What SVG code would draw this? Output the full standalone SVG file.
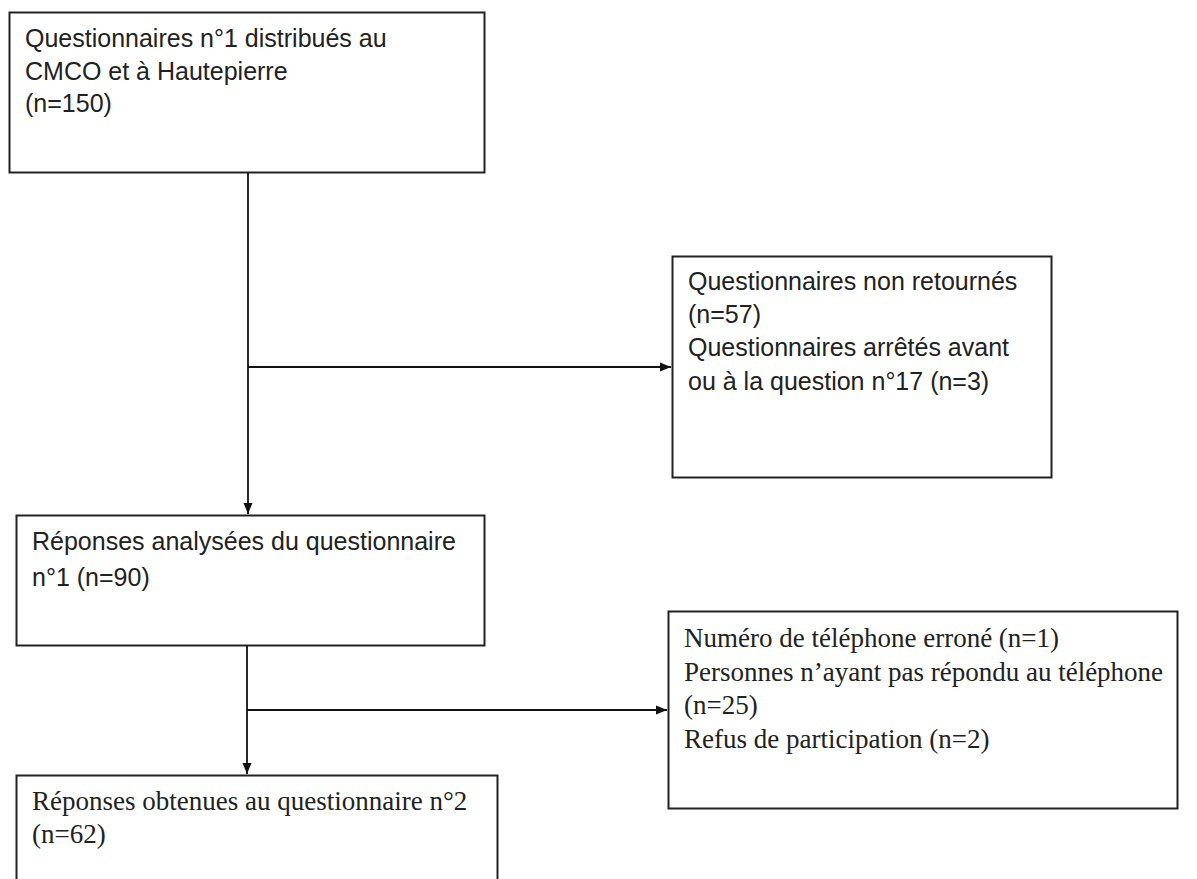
<svg xmlns="http://www.w3.org/2000/svg" width="1197" height="879" viewBox="0 0 1197 879">
<defs>
<marker id="arr" markerWidth="12" markerHeight="12" refX="11" refY="6" orient="auto" markerUnits="userSpaceOnUse">
<path d="M0,1.5 L11,6 L0,10.5 Z" fill="#111"/>
</marker>
<style>
.box{fill:#fff;stroke:#222;stroke-width:2}
.sans{font-family:"Liberation Sans",Arial,sans-serif;font-size:25px;fill:#222}
.serif{font-family:"Liberation Serif","Times New Roman",serif;font-size:27px;fill:#222}
.con{stroke:#111;stroke-width:1.8;fill:none}
</style>
</defs>
<rect width="1197" height="879" fill="#fff"/>
<g id="n1">
<rect class="box" x="9.5" y="12.5" width="475" height="160"/>
<text class="sans" x="25" y="47">Questionnaires n°1 distribués au</text>
<text class="sans" x="25" y="80">CMCO et à Hautepierre</text>
<text class="sans" x="25" y="112">(n=150)</text>
</g>
<g id="n2">
<rect class="box" x="672.5" y="256.5" width="379" height="221"/>
<text class="sans" x="688" y="290">Questionnaires non retournés</text>
<text class="sans" x="688" y="323">(n=57)</text>
<text class="sans" x="688" y="356">Questionnaires arrêtés avant</text>
<text class="sans" x="688" y="390">ou à la question n°17 (n=3)</text>
</g>
<g id="n3">
<rect class="box" x="16.5" y="515.5" width="468" height="130"/>
<text class="sans" x="32" y="550">Réponses analysées du questionnaire</text>
<text class="sans" x="32" y="586">n°1 (n=90)</text>
</g>
<g id="n4">
<rect class="box" x="668.5" y="611.5" width="509" height="197"/>
<text class="serif" x="684" y="647">Numéro de téléphone erroné (n=1)</text>
<text class="serif" x="684" y="681">Personnes n’ayant pas répondu au téléphone</text>
<text class="serif" x="684" y="714">(n=25)</text>
<text class="serif" x="684" y="748">Refus de participation (n=2)</text>
</g>
<g id="n5">
<rect class="box" x="16.5" y="775.5" width="481" height="130"/>
<text class="serif" x="32" y="810">Réponses obtenues au questionnaire n°2</text>
<text class="serif" x="32" y="843">(n=62)</text>
</g>
<g id="connectors">
<line class="con" x1="248" y1="173" x2="248" y2="514" marker-end="url(#arr)"/>
<line class="con" x1="248" y1="367" x2="671" y2="367" marker-end="url(#arr)"/>
<line class="con" x1="247" y1="646" x2="247" y2="774" marker-end="url(#arr)"/>
<line class="con" x1="247" y1="710" x2="667" y2="710" marker-end="url(#arr)"/>
</g>
</svg>
